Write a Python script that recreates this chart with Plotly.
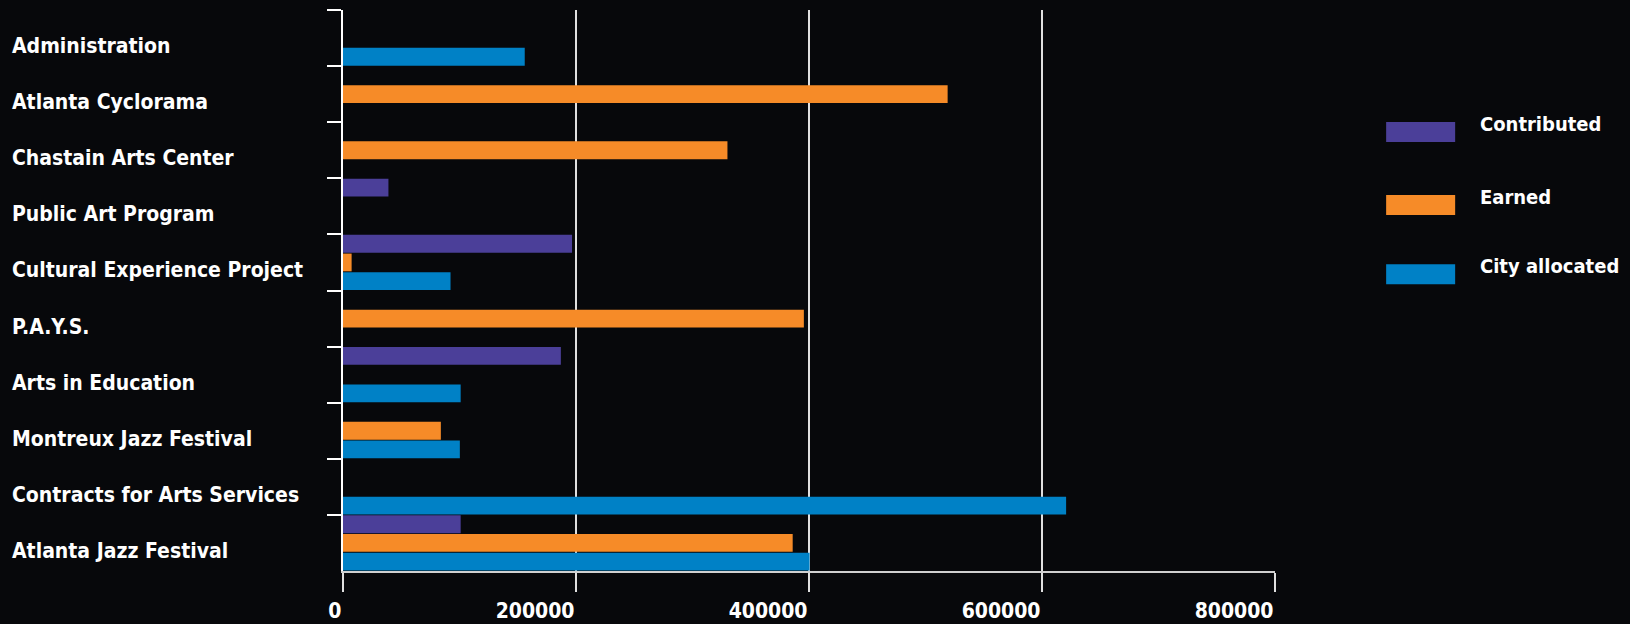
import plotly.graph_objects as go

categories = [
    "Administration",
    "Atlanta Cyclorama",
    "Chastain Arts Center",
    "Public Art Program",
    "Cultural Experience Project",
    "P.A.Y.S.",
    "Arts in Education",
    "Montreux Jazz Festival",
    "Contracts for Arts Services",
    "Atlanta Jazz Festival",
]

contributed = [None, None, None, 39000, 196600, None, 187000, None, None, 101000]
earned = [None, 519000, 330000, None, 7400, 395600, None, 84000, None, 386000]
city_allocated = [156000, None, None, None, 92300, None, 101000, 100300, 620700, 400500]

series_names = ["Contributed", "Earned", "City allocated"]
series_values = [contributed, earned, city_allocated]
series_colors = ["#4b3f99", "#f68b28", "#0081c6"]

x_tick_values = [0, 200000, 400000, 600000, 800000]

FONT = "DejaVu Sans Condensed, Liberation Sans Narrow, sans-serif"
BG = "#07080b"

fig = go.Figure()
for name, vals, col in zip(series_names, series_values, series_colors):
    fig.add_trace(go.Bar(
        name=name, y=categories, x=vals, orientation="h",
        marker=dict(color=col, line=dict(width=0)),
        showlegend=False,
    ))

fig.update_layout(
    width=1630, height=624,
    margin=dict(l=343, r=355, t=10, b=53),
    paper_bgcolor=BG, plot_bgcolor=BG,
    barmode="group", bargap=0, bargroupgap=0.05,
    font=dict(family=FONT, color="white", size=21, weight="bold"),
)

fig.update_xaxes(
    range=[0, 800000], tickvals=x_tick_values, tickformat="d",
    automargin=False,
    showgrid=True, gridcolor="#e0e0e0", gridwidth=1.5,
    zeroline=False, showline=True, linecolor="#d0d0d0", linewidth=1.5,
    ticks="outside", ticklen=19, tickwidth=1.5, tickcolor="#e0e0e0",
    ticklabelposition="outside left", ticklabelstandoff=20,
    tickfont=dict(family=FONT, size=21, color="white", weight="bold"),
)
fig.update_yaxes(
    autorange="reversed", showticklabels=False, tickson="boundaries",
    automargin=False,
    ticks="outside", ticklen=14, tickwidth=2, tickcolor="white",
    showline=True, linecolor="white", linewidth=2,
    showgrid=False, zeroline=False,
)

# category labels, left-aligned at the far left
for cat in categories:
    fig.add_annotation(
        x=-0.3576, xref="paper", xanchor="left",
        y=cat, yref="y", yanchor="middle", yshift=-8,
        text=cat, showarrow=False,
        font=dict(family=FONT, size=21, color="white", weight="bold"),
    )

# custom legend with large swatches
legend_center_px = [132, 205, 274]
plot_h = 560.7
plot_w = 931.7
for name, col, cy in zip(series_names, series_colors, legend_center_px):
    y0 = (570.7 - (cy + 10)) / plot_h
    y1 = (570.7 - (cy - 10)) / plot_h
    fig.add_shape(
        type="rect", xref="paper", yref="paper",
        x0=(1386 - 343.2) / plot_w, x1=(1455 - 343.2) / plot_w,
        y0=y0, y1=y1, fillcolor=col, line=dict(width=0),
    )
    fig.add_annotation(
        x=(1478 - 343.2) / plot_w, xref="paper", xanchor="left",
        y=(570.7 - (cy - 8)) / plot_h, yref="paper", yanchor="middle",
        text=name, showarrow=False,
        font=dict(family=FONT, size=20, color="white", weight="bold"),
    )

fig.write_html("out.html")
